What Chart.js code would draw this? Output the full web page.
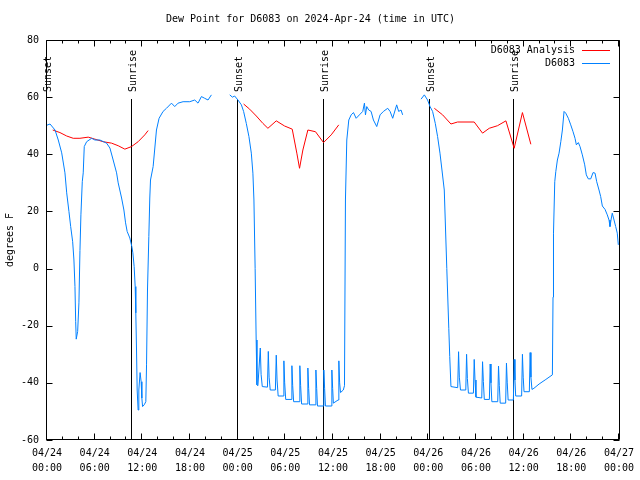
<!DOCTYPE html>
<html>
<head>
<meta charset="utf-8">
<script src="https://cdn.jsdelivr.net/npm/chart.js@4"></script>
<style>
  html, body { margin: 0; padding: 0; background: #fff; }
  #wrap { width: 640px; height: 480px; }
</style>
</head>
<body>
<div id="wrap"><canvas id="c" width="640" height="480"></canvas></div>
<script>
// hours since 04/24 00:00 UTC, dew point in degrees F (null = no data)
const obsHours = [
  0.00, 0.38, 1.01, 1.42, 1.85, 2.26, 2.48, 2.76, 2.98, 3.23, 3.39, 3.52, 3.61, 3.68, 3.86, 4.02,
  4.15, 4.27, 4.44, 4.56, 4.69, 4.99, 5.62, 6.03, 6.66, 7.50, 7.92, 8.33, 8.76, 8.96, 9.39, 9.68,
  9.89, 10.09, 10.43, 10.68, 10.81, 10.97, 11.10, 11.18, 11.27, 11.35, 11.47, 11.56, 11.72, 11.85,
  11.94, 12.03, 12.23, 12.44, 12.53, 12.65, 12.82, 12.94, 13.03, 13.36, 13.78, 14.11, 14.61, 15.04,
  15.67, 16.08, 16.50, 17.13, 17.97, 18.60, 19.01, 19.44, 19.85, 20.27, 20.70, 21.80,
  23.00, 23.34, 23.62, 24.04, 24.47, 24.75, 25.09, 25.42, 25.72, 25.92, 26.05, 26.20, 26.33, 26.43,
  26.55, 26.85, 26.95, 27.10, 27.75, 27.86, 27.96, 28.10, 28.75, 28.86, 28.96, 29.10,
  29.72, 29.82, 29.92, 30.05, 30.73, 30.83, 30.93, 31.05, 31.73, 31.83, 31.93, 32.05,
  32.74, 32.84, 32.94, 33.05, 33.75, 33.85, 33.95, 34.05, 34.75, 34.85, 34.95, 35.05,
  35.76, 35.86, 35.96, 36.05, 36.64, 36.74, 36.84, 36.95, 37.30, 37.45,
  37.57, 37.74, 37.99, 38.29, 38.58, 38.92, 39.33, 39.75, 39.96, 40.09, 40.25, 40.50, 40.80, 41.09,
  41.51, 41.93, 42.35, 42.89, 43.19, 43.52, 44.02, 44.27, 44.57, 44.77, 45.50,
  47.09, 47.50, 47.91, 48.22, 48.54, 48.88, 49.17, 49.47, 49.72, 50.01, 50.33, 50.58, 50.70, 50.85,
  51.70, 51.81, 51.91, 52.05, 52.72, 52.82, 52.92, 53.05, 53.68, 53.78, 53.88, 54.00,
  54.73, 54.83, 54.93, 55.05, 55.69, 55.79, 55.89, 56.00, 56.74, 56.84, 56.94, 57.05,
  57.74, 57.84, 57.94, 58.05, 58.71, 58.81, 58.91, 59.00, 59.75, 59.85, 59.95, 60.05,
  60.72, 60.82, 60.92, 61.05, 61.30, 61.95, 62.80, 63.62, 63.70, 63.76, 63.92,
  64.05, 64.25, 64.46, 64.68, 64.88, 65.09, 65.30, 65.63, 65.93, 66.22, 66.47, 66.64, 66.89, 67.10,
  67.39, 67.69, 67.89, 68.14, 68.45, 68.74, 68.99, 69.20, 69.49, 69.70, 69.91, 70.25, 70.53, 70.75,
  70.87, 71.00, 71.16, 71.38, 71.59, 71.79, 71.92
];
const obsDew = [
  50.2, 50.6, 48.5, 45.0, 40.5, 33.5, 26.5, 20.0, 14.7, 9.4, 3.0, -6.3, -18.6, -24.7, -22.0, -12.0,
  6.3, 18.8, 30.4, 33.5, 42.7, 44.4, 45.6, 45.0, 45.0, 43.9, 42.2, 38.0, 33.5, 30.0, 24.7, 20.5,
  16.0, 13.0, 10.7, 7.7, 5.5, 0.7, -6.3, -15.5, -28.5, -42.5, -49.5, -42.5, -36.4, -39.6,
  -45.3, -48.3, -47.7, -46.6, -33.7, -7.5, 11.2, 24.7, 31.0, 35.7, 48.5, 52.6, 55.0, 56.1,
  57.9, 56.7, 57.9, 58.4, 58.4, 59.0, 57.9, 60.2, 59.6, 59.0, 60.8, null,
  60.8, 60.0, 60.4, 59.0, 57.3, 55.0, 50.8, 46.2, 40.4, 33.4, 24.0, 0.0, -25.0, -40.7,
  -41.0, -27.8, -37.0, -41.3, -41.5, -29.0, -38.0, -42.5, -42.5, -30.3, -39.0, -44.6,
  -44.6, -32.3, -40.0, -45.8, -45.8, -34.0, -41.0, -46.6, -46.6, -34.0, -41.0, -47.4,
  -47.4, -34.8, -42.0, -47.7, -47.7, -35.5, -42.0, -48.1, -48.1, -35.5, -42.0, -48.1,
  -48.1, -35.5, -42.0, -47.1, -46.0, -32.3, -40.0, -43.4, -42.5, -41.0,
  24.0, 45.0, 52.0, 53.8, 54.6, 52.6, 53.8, 55.0, 57.9, 53.8, 56.7, 55.5, 55.0, 52.0,
  49.7, 53.8, 55.0, 56.1, 55.0, 52.6, 57.3, 55.0, 55.5, 53.8, null,
  59.3, 60.8, 59.0, 56.7, 55.0, 50.8, 46.2, 40.4, 34.5, 27.5, 0.0, -20.9, -30.8, -41.3,
  -41.7, -29.1, -38.0, -42.5, -42.5, -30.0, -38.5, -43.6, -43.6, -31.8, -39.0, -45.0,
  -45.3, -32.6, -39.5, -45.8, -45.8, -33.4, -40.0, -46.6, -46.6, -34.1, -41.0, -47.1,
  -47.1, -33.1, -40.0, -46.0, -46.0, -31.8, -39.0, -44.6, -44.6, -30.0, -38.0, -43.1,
  -43.1, -29.4, -38.0, -42.3, -41.9, -40.4, -38.8, -37.2, -10.0, 12.4, 30.4,
  33.9, 38.0, 40.4, 44.4, 48.5, 55.0, 54.4, 52.6, 50.3, 47.9, 45.6, 43.3, 44.1, 42.7,
  39.8, 36.3, 32.8, 31.4, 31.4, 33.6, 33.4, 30.4, 27.5, 25.2, 21.9, 20.7, 18.8, 17.0,
  14.7, 17.0, 19.4, 17.0, 14.7, 12.4, 8.3
];

const anaHours = [
  0.72, 1.63, 2.48, 3.30, 4.15, 5.19, 6.03, 7.07, 8.13, 8.96, 9.80, 10.64, 11.47, 12.31, 12.73, 18.0,
  24.75, 25.51, 26.35, 27.18, 27.81, 28.86, 29.91, 30.87, 31.45, 31.79, 32.21, 32.84, 33.80, 34.81, 35.78, 36.73, 42.0,
  48.76, 49.80, 50.85, 51.68, 53.78, 54.83, 55.67, 56.71, 57.77, 58.81, 59.85, 60.91
];
const anaDew = [
  48.5, 47.6, 46.4, 45.6, 45.6, 46.0, 45.3, 44.4, 43.9, 43.0, 41.8, 42.7, 44.4, 46.8, 48.3, null,
  57.6, 55.8, 53.4, 50.8, 49.1, 51.7, 49.9, 48.8, 40.4, 35.1, 41.5, 48.5, 47.9, 44.1, 46.8, 50.3, null,
  56.1, 53.8, 50.6, 51.3, 51.3, 47.4, 49.1, 50.0, 51.7, 42.1, 54.6, 43.5
];

const sunsetHours = [0.0, 24.04, 48.19];
const sunriseHours = [10.68, 34.85, 58.85];

const xTickDates = ['04/24', '04/24', '04/24', '04/24', '04/25', '04/25', '04/25', '04/25',
                    '04/26', '04/26', '04/26', '04/26', '04/27'];
const xTickTimes = ['00:00', '06:00', '12:00', '18:00', '00:00', '06:00', '12:00', '18:00',
                    '00:00', '06:00', '12:00', '18:00', '00:00'];

const FONT = 'DejaVu Sans Mono';
const RED = '#ff0000';
const BLUE = '#0080ff';

const obsPoints = obsHours.map((h, i) => ({ x: h, y: obsDew[i] }));
const anaPoints = anaHours.map((h, i) => ({ x: h, y: anaDew[i] }));

// gnuplot-ish frame, inward ticks, sun lines, legend
const decor = {
  id: 'decor',
  beforeDatasetsDraw(chart) {
    const { ctx, chartArea: a, scales } = chart;
    const xs = scales.x;
    ctx.save();
    ctx.strokeStyle = '#000';
    ctx.lineWidth = 1;
    ctx.fillStyle = '#000';
    ctx.font = '10px ' + FONT;
    const draw = (hours, label) => {
      hours.forEach(h => {
        const px = Math.round(xs.getPixelForValue(h)) - 0.5;
        ctx.beginPath();
        ctx.moveTo(px, 99);
        ctx.lineTo(px, a.bottom);
        ctx.stroke();
        ctx.save();
        ctx.translate(px + 1.5, 92);
        ctx.rotate(-Math.PI / 2);
        ctx.textAlign = 'left';
        ctx.textBaseline = 'middle';
        ctx.fillText(label, 0, 0);
        ctx.restore();
      });
    };
    draw(sunsetHours, 'Sunset');
    draw(sunriseHours, 'Sunrise');
    ctx.restore();
  },
  afterDraw(chart) {
    const { ctx, chartArea: a, scales } = chart;
    const xs = scales.x, ys = scales.y;
    const L = Math.round(a.left) - 0.5, R = Math.round(a.right) + 0.5;
    const T = Math.round(a.top) + 0.5, B = Math.round(a.bottom) - 0.5;
    ctx.save();
    ctx.strokeStyle = '#000';
    ctx.lineWidth = 1;
    ctx.beginPath();
    ctx.rect(L, T, R - L, B - T);
    // x ticks, major every 6 h, minor every 2 h
    for (let h = 0; h <= 72; h += 2) {
      const px = Math.round(xs.getPixelForValue(h)) - 0.5;
      const len = h % 6 === 0 ? 6 : 3;
      ctx.moveTo(px, B); ctx.lineTo(px, B - len);
      ctx.moveTo(px, T); ctx.lineTo(px, T + len);
    }
    ys.ticks.forEach(t => {
      const py = Math.round(ys.getPixelForValue(t.value)) + 0.5;
      ctx.moveTo(L, py); ctx.lineTo(L + 6, py);
      ctx.moveTo(R, py); ctx.lineTo(R - 6, py);
    });
    ctx.stroke();

    // legend
    ctx.font = '10px ' + FONT;
    ctx.fillStyle = '#000';
    ctx.textAlign = 'right';
    ctx.textBaseline = 'middle';
    [['D6083 Analysis', RED, 50], ['D6083', BLUE, 63]].forEach(([txt, col, y]) => {
      ctx.fillText(txt, 575, y);
      ctx.strokeStyle = col;
      ctx.beginPath();
      ctx.moveTo(582, y + 0.5);
      ctx.lineTo(610, y + 0.5);
      ctx.stroke();
    });
    ctx.restore();
  }
};

new Chart(document.getElementById('c'), {
  type: 'line',
  data: {
    datasets: [
      {
        label: 'D6083',
        data: obsPoints,
        borderColor: BLUE,
        borderWidth: 1,
        pointRadius: 0,
        tension: 0,
        spanGaps: false,
        order: 0
      },
      {
        label: 'D6083 Analysis',
        data: anaPoints,
        borderColor: RED,
        borderWidth: 1,
        pointRadius: 0,
        tension: 0,
        spanGaps: false,
        order: 1
      }
    ]
  },
  options: {
    responsive: false,
    animation: false,
    devicePixelRatio: 1,
    layout: { padding: { top: 0, right: 19, bottom: 0, left: 0 } },
    plugins: {
      legend: { display: false },
      tooltip: { enabled: false },
      title: {
        display: true,
        text: 'Dew Point for D6083 on 2024-Apr-24 (time in UTC)',
        color: '#000',
        font: { family: FONT, size: 10, weight: 'normal', lineHeight: 1.2 },
        padding: { top: 13, bottom: 15 }
      }
    },
    scales: {
      x: {
        type: 'linear',
        min: 0,
        max: 72,
        grid: { display: false, drawTicks: false },
        border: { display: false },
        afterFit: s => { s.height = 40; },
        ticks: {
          stepSize: 6,
          autoSkip: false,
          maxRotation: 0,
          padding: 6,
          color: '#000',
          font: { family: FONT, size: 10, lineHeight: 1.5 },
          callback: (v, i) => [xTickDates[i], xTickTimes[i]]
        }
      },
      y: {
        min: -60,
        max: 80,
        grid: { display: false, drawTicks: false },
        border: { display: false },
        afterFit: s => { s.width = 47; },
        title: {
          display: true,
          text: 'degrees F',
          color: '#000',
          font: { family: FONT, size: 10, lineHeight: 1.2 },
          padding: { top: 4, bottom: 0 }
        },
        ticks: {
          stepSize: 20,
          padding: 8,
          color: '#000',
          font: { family: FONT, size: 10 }
        }
      }
    }
  },
  plugins: [decor]
});
</script>
</body>
</html>
